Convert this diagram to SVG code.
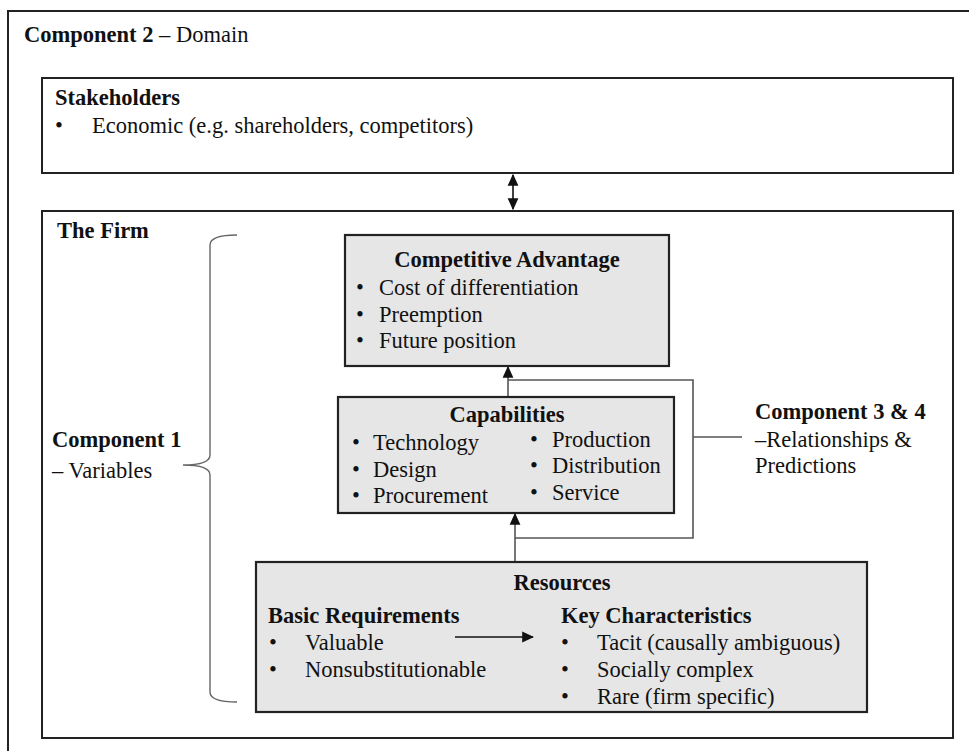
<svg xmlns="http://www.w3.org/2000/svg" width="969" height="751" viewBox="0 0 969 751">
<style>
text{font-family:"Liberation Serif","Times New Roman",serif;font-size:22.5px;fill:#111}
.b{font-weight:bold}
.box{fill:#fff;stroke:#222;stroke-width:2}
.gbox{fill:#e6e6e6;stroke:#222;stroke-width:2.2}
.con{fill:none;stroke:#555;stroke-width:1.6}
.blk{fill:none;stroke:#111;stroke-width:1.6}
.mid{text-anchor:middle}
</style>
<defs>
<marker id="ah" markerUnits="userSpaceOnUse" markerWidth="12" markerHeight="12" viewBox="0 0 10 10" refX="9" refY="5" orient="auto-start-reverse">
<path d="M0,0.5 L10,5 L0,9.5 Z" fill="#111"/>
</marker>
</defs>
<rect width="969" height="751" fill="#fff"/>
<g id="domain">
<rect class="box" x="8" y="11" width="975" height="760"/>
<text x="24" y="42"><tspan class="b">Component 2</tspan> – Domain</text>
</g>
<g id="stakeholders">
<rect class="box" x="42" y="78" width="911" height="95"/>
<text class="b" x="55" y="105">Stakeholders</text>
<text x="55" y="133">•</text>
<text x="92" y="133">Economic (e.g. shareholders, competitors)</text>
</g>
<g id="firm">
<rect class="box" x="42" y="211" width="911" height="527"/>
<text class="b" x="57" y="238">The Firm</text>
</g>
<g id="component1">
<path class="con" d="M237,235 Q210,235 210,245 L210,455 Q210,465 183,465 Q210,465 210,475 L210,692 Q210,702 237,702" style="stroke:#666;stroke-width:1.4"/>
<text class="b" x="52" y="447">Component 1</text>
<text x="52" y="478">– Variables</text>
</g>
<g id="competitive-advantage">
<rect class="gbox" x="345" y="235" width="324" height="131"/>
<text class="b mid" x="507" y="267">Competitive Advantage</text>
<text x="356" y="295">•</text><text x="379" y="295">Cost of differentiation</text>
<text x="356" y="322">•</text><text x="379" y="322">Preemption</text>
<text x="356" y="348">•</text><text x="379" y="348">Future position</text>
</g>
<g id="capabilities">
<rect class="gbox" x="338" y="397" width="336" height="116"/>
<text class="b mid" x="507" y="422">Capabilities</text>
<text x="352" y="450">•</text><text x="373" y="450">Technology</text>
<text x="352" y="477">•</text><text x="373" y="477">Design</text>
<text x="352" y="503">•</text><text x="373" y="503">Procurement</text>
<text x="530" y="447">•</text><text x="552" y="447">Production</text>
<text x="530" y="473">•</text><text x="552" y="473">Distribution</text>
<text x="530" y="500">•</text><text x="552" y="500">Service</text>
</g>
<g id="resources">
<rect class="gbox" x="256" y="562" width="611" height="150"/>
<text class="b mid" x="562" y="590">Resources</text>
<text class="b" x="268" y="623">Basic Requirements</text>
<text x="269" y="650">•</text><text x="305" y="650">Valuable</text>
<text x="269" y="677">•</text><text x="305" y="677">Nonsubstitutionable</text>
<text class="b" x="561" y="623">Key Characteristics</text>
<text x="561" y="650">•</text><text x="597" y="650">Tacit (causally ambiguous)</text>
<text x="561" y="677">•</text><text x="597" y="677">Socially complex</text>
<text x="561" y="704">•</text><text x="597" y="704">Rare (firm specific)</text>
</g>
<g id="component34">
<text class="b" x="755" y="419">Component 3 &amp; 4</text>
<text x="755" y="447">–Relationships &amp;</text>
<text x="755" y="473">Predictions</text>
</g>
<g id="connectors">
<line class="blk" x1="513" y1="175" x2="513" y2="209" marker-start="url(#ah)" marker-end="url(#ah)"/>
<line class="con" x1="508" y1="396" x2="508" y2="367" marker-end="url(#ah)"/>
<line class="con" x1="515" y1="561" x2="515" y2="514" marker-end="url(#ah)"/>
<polyline class="con" points="508,380 693,380 693,538 515,538"/>
<line class="con" x1="693" y1="437" x2="742" y2="437"/>
<line class="blk" x1="455" y1="637" x2="533" y2="637" marker-end="url(#ah)"/>
</g>
</svg>
